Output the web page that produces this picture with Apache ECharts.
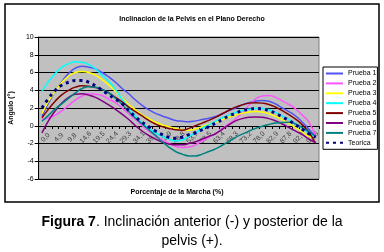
<!DOCTYPE html>
<html>
<head>
<meta charset="utf-8">
<script src="https://cdn.jsdelivr.net/npm/echarts@6/dist/echarts.min.js"></script>
<style>
  html, body { margin: 0; padding: 0; background: #fff; }
  #chart { width: 384px; height: 252px; }
</style>
</head>
<body>
<div id="chart"></div>
<script>
// porcentaje de la marcha (eje x)
var categories = ['0,0', '2,4', '4,9', '7,3', '9,8', '12,2', '14,6', '17,1', '19,5', '22,0',
  '24,4', '26,8', '29,3', '31,7', '34,1', '36,6', '39,0', '41,5', '43,9', '46,3',
  '48,8', '51,2', '53,7', '56,1', '58,5', '61,0', '63,4', '65,9', '68,3', '70,7',
  '73,2', '75,6', '78,0', '80,5', '82,9', '85,4', '87,8', '90,2', '92,7', '95,1',
  '97,6', '100,0'];

var prueba1 = [1.1, 2.6, 3.9, 5.0, 5.9, 6.5, 6.7, 6.6, 6.4, 6.0, 5.5, 4.9, 4.2, 3.6, 2.9, 2.3, 1.8, 1.4, 1.1, 0.85,
  0.6, 0.5, 0.45, 0.55, 0.7, 0.85, 1.05, 1.35, 1.7, 2.0, 2.35, 2.6, 2.8, 2.85, 2.75, 2.45, 2.0, 1.6, 1.1, 0.4,
  -0.4, -1.3];
var prueba2 = [0.7, 0.9, 1.2, 1.7, 2.3, 2.9, 3.35, 3.6, 3.55, 3.4, 3.0, 2.6, 2.0, 1.35, 0.7, 0.0, -0.6, -1.1, -1.6, -2.0,
  -2.3, -2.45, -2.4, -2.15, -1.7, -1.3, -0.9, -0.3, 0.2, 0.75, 1.5, 2.3, 3.0, 3.35, 3.4, 3.2, 2.8, 2.4, 1.9, 1.2,
  0.4, -1.2];
var prueba3 = [1.4, 2.8, 3.9, 4.9, 5.6, 6.0, 6.1, 6.0, 5.7, 5.2, 4.6, 3.9, 3.1, 2.4, 1.8, 1.2, 0.8, 0.4, 0.1, -0.1,
  -0.3, -0.45, -0.5, -0.35, -0.1, 0.15, 0.4, 0.7, 0.95, 1.2, 1.4, 1.55, 1.6, 1.55, 1.35, 1.05, 0.7, 0.25, -0.2, -0.7,
  -1.2, -1.4];
var prueba4 = [3.9, 5.0, 5.9, 6.6, 7.0, 7.2, 7.15, 6.9, 6.4, 5.7, 5.0, 4.1, 3.0, 2.0, 1.1, 0.3, -0.3, -0.8, -1.2, -1.5,
  -1.7, -1.6, -1.2, -0.8, -0.3, 0.1, 0.5, 0.9, 1.2, 1.5, 1.7, 1.85, 1.95, 1.95, 1.8, 1.5, 1.1, 0.7, 0.2, -0.3,
  -0.8, -1.3];
var prueba5 = [0.9, 1.9, 2.8, 3.5, 4.0, 4.35, 4.5, 4.45, 4.3, 4.1, 3.7, 3.2, 2.7, 2.1, 1.6, 1.1, 0.6, 0.2, -0.1, -0.3,
  -0.45, -0.5, -0.3, 0.0, 0.3, 0.6, 0.95, 1.35, 1.75, 2.1, 2.35, 2.55, 2.6, 2.55, 2.4, 2.1, 1.7, 1.25, 0.75, 0.1,
  -0.75, -2.0];
var prueba6 = [-0.8, 0.6, 1.7, 2.6, 3.2, 3.55, 3.6, 3.45, 3.2, 2.8, 2.35, 1.85, 1.3, 0.7, 0.0, -0.6, -1.1, -1.5, -1.85, -2.05,
  -2.15, -2.15, -2.0, -1.8, -1.5, -1.2, -0.9, -0.4, 0.1, 0.55, 0.8, 0.95, 1.0, 0.95, 0.8, 0.55, 0.2, -0.2, -0.6, -1.0,
  -1.5, -1.9];
var prueba7 = [0.5, 1.2, 1.9, 2.5, 3.1, 3.7, 4.2, 4.4, 4.35, 4.1, 3.7, 3.1, 2.4, 1.6, 0.85, 0.2, -0.45, -1.1, -1.8, -2.4,
  -2.9, -3.2, -3.4, -3.4, -3.2, -2.9, -2.6, -2.2, -1.75, -1.3, -0.95, -0.6, -0.3, -0.05, 0.15, 0.3, 0.38, 0.4, 0.2, -0.2,
  -0.7, -1.2];
var teorica = [2.0, 3.1, 4.0, 4.6, 4.9, 5.1, 5.1, 4.9, 4.5, 4.0, 3.5, 3.0, 2.5, 1.7, 1.0, 0.4, -0.1, -0.6, -1.0, -1.3,
  -1.4, -1.3, -1.0, -0.8, -0.45, -0.1, 0.3, 0.7, 1.1, 1.4, 1.7, 1.85, 1.95, 1.9, 1.7, 1.4, 1.0, 0.6, 0.1, -0.4,
  -0.9, -1.3];

var nombres = ['Prueba 1', 'Prueba 2', 'Prueba 3', 'Prueba 4', 'Prueba 5', 'Prueba 6', 'Prueba 7', 'Teorica'];
var datos = [prueba1, prueba2, prueba3, prueba4, prueba5, prueba6, prueba7, teorica];
var colores = ['#5252F2', '#FF55FF', '#FFFF00', '#00FFFF', '#800000', '#800080', '#008080', '#000080'];

var fuente = 'Arial, "Liberation Sans", sans-serif';

var series = nombres.map(function (nombre, k) {
  var esTeorica = nombre === 'Teorica';
  return {
    name: nombre,
    type: 'line',
    data: datos[k],
    smooth: true,
    symbol: 'none',
    z: esTeorica ? 3 : 2,
    lineStyle: {
      color: colores[k],
      width: esTeorica ? 3 : 1.5,
      type: esTeorica ? [3, 4] : 'solid',
      cap: 'butt'
    },
    itemStyle: { color: colores[k] }
  };
});

var chart = echarts.init(document.getElementById('chart'));
chart.setOption({
  animation: false,
  backgroundColor: '#fff',
  graphic: [{
    type: 'rect',
    shape: { x: 5, y: 4, width: 374, height: 198 },
    style: { fill: null, stroke: '#000', lineWidth: 1.5 },
    silent: true
  }, {
    // titulo del eje x
    type: 'text',
    x: 177,
    y: 192,
    style: {
      text: 'Porcentaje de la Marcha (%)',
      fill: '#000',
      font: 'bold 7px ' + fuente,
      align: 'center',
      verticalAlign: 'middle'
    },
    silent: true
  }],
  title: [{
    text: 'Inclinacion de la Pelvis en el Plano Derecho',
    left: 'center',
    top: 11,
    textStyle: { fontSize: 7, fontWeight: 'bold', color: '#000', fontFamily: fuente }
  }, {
    text: '{b|Figura 7}. Inclinación anterior (-) y posterior de la\npelvis (+).',
    left: 'center',
    top: 208,
    textStyle: {
      fontSize: 14, fontWeight: 'normal', color: '#000', fontFamily: fuente, lineHeight: 19,
      rich: { b: { fontSize: 14, fontWeight: 'bold', color: '#000', fontFamily: fuente, lineHeight: 19 } }
    }
  }],
  legend: {
    orient: 'vertical',
    left: 323,
    top: 67,
    padding: [3, 1, 3, 2],
    itemWidth: 17,
    itemHeight: 8,
    itemGap: 2.9,
    backgroundColor: '#fff',
    borderColor: '#000',
    borderWidth: 1,
    borderRadius: 0,
    data: nombres,
    itemStyle: { opacity: 0 },
    textStyle: { fontSize: 7, color: '#000', fontFamily: fuente }
  },
  grid: {
    left: 35, top: 37, width: 284, height: 142,
    show: true,
    backgroundColor: '#C0C0C0',
    borderColor: '#808080',
    borderWidth: 1
  },
  xAxis: {
    type: 'category',
    data: categories,
    boundaryGap: true,
    offset: -53,
    axisLine: { onZero: false, lineStyle: { color: '#000', width: 1 } },
    axisTick: { show: true, interval: 0, length: 3, lineStyle: { color: '#000' } },
    axisLabel: {
      interval: 1,
      rotate: 45,
      align: 'center',
      verticalAlign: 'middle',
      margin: 15,
      padding: [0, 0, 0, 10],
      fontSize: 7,
      color: '#404040',
      fontFamily: fuente
    },
    splitLine: { show: false }
  },
  yAxis: {
    type: 'value',
    min: -6,
    max: 10,
    interval: 2,
    name: 'Angulo (°)',
    nameLocation: 'middle',
    nameGap: 19,
    nameRotate: 90,
    nameTextStyle: { fontSize: 7, fontWeight: 'bold', color: '#000', fontFamily: fuente },
    axisLine: { show: true, lineStyle: { color: '#000', width: 1 } },
    axisTick: { show: true, length: 4, lineStyle: { color: '#000' } },
    axisLabel: { fontSize: 7, color: '#000', margin: 5, fontFamily: fuente },
    splitLine: { show: true, lineStyle: { color: '#000', width: 1 } }
  },
  series: series
});
</script>
</body>
</html>
